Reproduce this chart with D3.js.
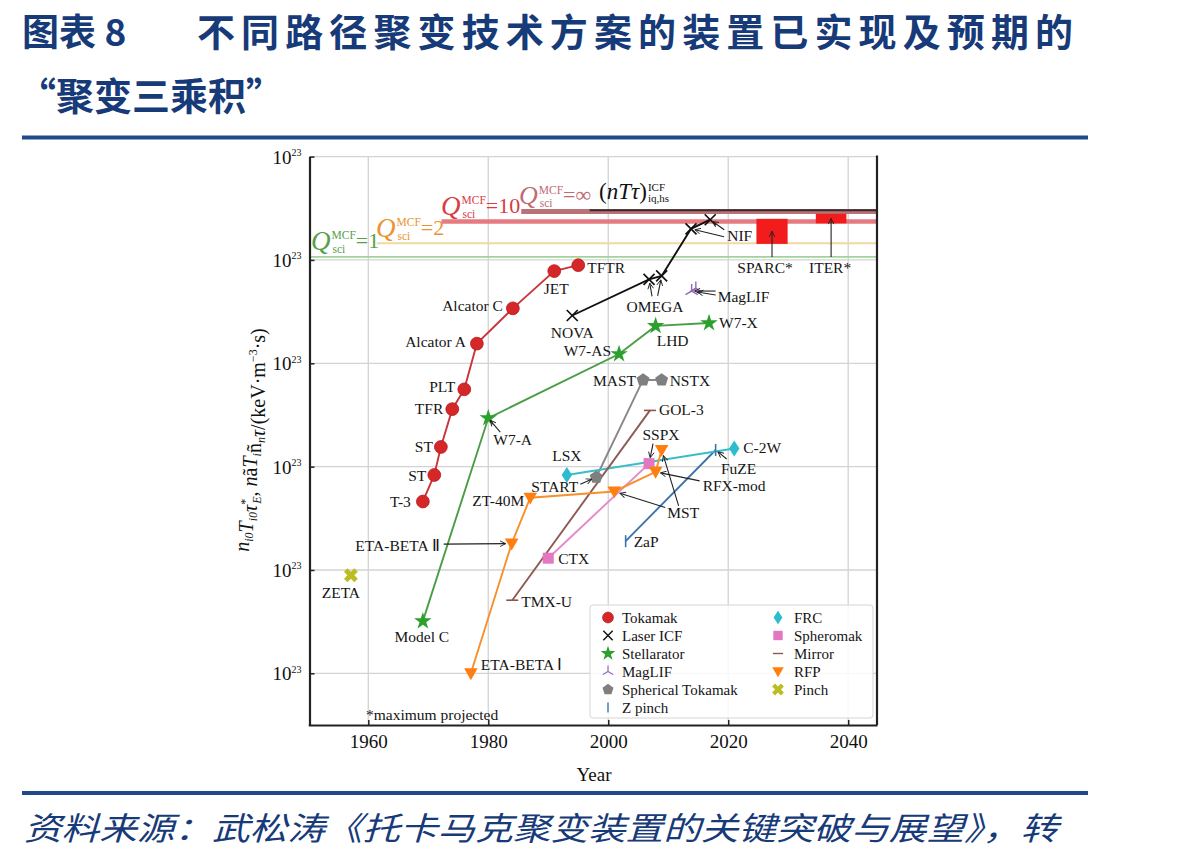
<!DOCTYPE html>
<html><head><meta charset="utf-8">
<script src="https://cdn.jsdelivr.net/npm/d3@7"></script>
<style>body{margin:0;background:#fff}svg{display:block}</style>
</head><body>
<svg id="c" width="1198" height="861"></svg>
<script>
// ---------------- DATA ----------------
const yearTicks = [1960, 1980, 2000, 2020, 2040];
const decadeTicks = [1e17, 1e18, 1e19, 1e20, 1e21, 1e22];
const tickLabelBase = "10";
const tickLabelExp = ["23", "23", "23", "23", "23", "23"]; // as printed in the figure

const tokamak = [
  {name:"T-3", year:1969.1, value:4.6e18},
  {name:"ST", year:1971.0, value:8.3e18},
  {name:"ST", year:1972.1, value:1.55e19},
  {name:"TFR", year:1974.0, value:3.6e19},
  {name:"PLT", year:1976.0, value:5.6e19},
  {name:"Alcator A", year:1978.1, value:1.55e20},
  {name:"Alcator C", year:1984.1, value:3.4e20},
  {name:"JET", year:1991.0, value:7.8e20},
  {name:"TFTR", year:1995.0, value:8.9e20}
];
const laserICF = [
  {name:"NOVA", year:1994.0, value:2.9e20},
  {name:"OMEGA", year:2006.8, value:6.5e20},
  {name:"OMEGA", year:2008.9, value:7.0e20},
  {name:"NIF", year:2013.8, value:2.0e21},
  {name:"NIF", year:2017.0, value:2.45e21}
];
const stellarator = [
  {name:"Model C", year:1969.1, value:3.2e17},
  {name:"W7-A", year:1980.0, value:2.95e19},
  {name:"W7-AS", year:2001.8, value:1.23e20},
  {name:"LHD", year:2007.9, value:2.3e20},
  {name:"W7-X", year:2016.8, value:2.45e20}
];
const maglif = [
  {name:"MagLIF", year:2013.9, value:5.0e20},
  {name:"MagLIF", year:2014.6, value:5.3e20}
];
const sphericalTokamak = [
  {name:"START", year:1998.0, value:7.9e18},
  {name:"MAST", year:2005.8, value:6.9e19},
  {name:"NSTX", year:2008.9, value:6.9e19}
];
const zPinch = [
  {name:"ZaP", year:2002.9, value:1.9e18},
  {name:"FuZE", year:2017.9, value:1.45e19}
];
const frc = [
  {name:"LSX", year:1993.1, value:8.3e18},
  {name:"C-2W", year:2021.0, value:1.5e19}
];
const spheromak = [
  {name:"CTX", year:1990.0, value:1.3e18},
  {name:"SSPX", year:2006.8, value:1.07e19}
];
const mirror = [
  {name:"TMX-U", year:1984.0, value:5.1e17},
  {name:"GOL-3", year:2006.95, value:3.5e19}
];
const rfp = [
  {name:"ETA-BETA Ⅰ", year:1977.1, value:1.0e17},
  {name:"ETA-BETA Ⅱ", year:1983.9, value:1.8e18},
  {name:"ZT-40M", year:1987.0, value:5.0e18},
  {name:"MST", year:2001.0, value:5.75e18},
  {name:"RFX-mod", year:2007.9, value:8.9e18},
  {name:"MST", year:2008.9, value:1.45e19}
];
const pinch = [
  {name:"ZETA", year:1957.1, value:8.9e17}
];
// Q_sci lines: start year, level
const qLines = [
  {key:"Q1",   startYear:1950.2, value:1.07e21},
  {key:"Q2",   startYear:1961.4, value:1.45e21},
  {key:"Q10",  startYear:1972.2, value:2.35e21},
  {key:"Qinf", startYear:1985.5, value:2.95e21},
  {key:"ICF",  startYear:1996.9, value:3.02e21}
];
// projected machines (year span, value span)
const projected = [
  {name:"SPARC*", years:[2024.7, 2029.9], values:[1.43e21, 2.5e21]},
  {name:"ITER*",  years:[2034.6, 2039.7], values:[2.26e21, 2.8e21]}
];
const legendNames = ["Tokamak","Laser ICF","Stellarator","MagLIF","Spherical Tokamak","Z pinch","FRC","Spheromak","Mirror","RFP","Pinch"];

// ---------------- STYLE / LAYOUT ----------------
const serif = "'Liberation Serif','Times New Roman',serif";
const cjk = "'Noto Sans CJK SC','Noto Sans CJK JP',sans-serif";
const navy = "#173a78";

const series = [
  {label:"Tokamak", data:tokamak, marker:"circle", color:"#d62728", line:"#c8353a"},
  {label:"Laser ICF", data:laserICF, marker:"x", color:"#111", line:"#111"},
  {label:"Stellarator", data:stellarator, marker:"star", color:"#2ca02c", line:"#4a9d45"},
  {label:"MagLIF", data:maglif, marker:"tri", color:"#9467bd", line:"#9467bd"},
  {label:"Spherical Tokamak", data:sphericalTokamak, marker:"pent", color:"#7f7f7f", line:"#888"},
  {label:"Z pinch", data:zPinch, marker:"vline", color:"#3a73ad", line:"#3f74ab"},
  {label:"FRC", data:frc, marker:"diam", color:"#2bbccd", line:"#3bbccb"},
  {label:"Spheromak", data:spheromak, marker:"square", color:"#e377c2", line:"#e58ac9"},
  {label:"Mirror", data:mirror, marker:"hline", color:"#8c564b", line:"#8c5a52"},
  {label:"RFP", data:rfp, marker:"tridown", color:"#ff7f0e", line:"#f7902c"},
  {label:"Pinch", data:pinch, marker:"X", color:"#bcbd22", line:"#bcbd22"}
];

const svg = d3.select("#c");
svg.append("rect").attr("width",1198).attr("height",861).attr("fill","#fff");

const L = 309.5, R = 877, T = 156.6, B = 725;
const x = d3.scaleLinear().domain([1950, 2044.8]).range([308.3, 877]);
const y = d3.scaleLog().domain([Math.pow(10,16.5), 1e22]).range([B, T]);

// ---- header ----
svg.append("text").attr("x",22).attr("y",46).attr("font-family",cjk).attr("font-weight",700)
  .attr("font-size",37).attr("fill",navy).text("图表 8");
svg.append("text").attr("x",197).attr("y",46).attr("font-family",cjk).attr("font-weight",700)
  .attr("font-size",38).attr("textLength",876).attr("lengthAdjust","spacing").attr("fill",navy)
  .text("不同路径聚变技术方案的装置已实现及预期的");
svg.append("text").attr("x",18).attr("y",110).attr("font-family",cjk).attr("font-weight",700)
  .attr("font-size",38).attr("fill",navy).text("“聚变三乘积”");
svg.append("rect").attr("x",22).attr("y",135.5).attr("width",1066).attr("height",4).attr("fill","#1f4b8c");
svg.append("rect").attr("x",22).attr("y",791).attr("width",1066).attr("height",4).attr("fill","#1f4b8c");
svg.append("text").attr("x",24).attr("y",840).attr("font-family",cjk).attr("font-style","italic")
  .attr("font-size",32).attr("fill",navy).attr("textLength",1034).attr("lengthAdjust","spacingAndGlyphs")
  .text("资料来源：武松涛《托卡马克聚变装置的关键突破与展望》，转");

// ---- grid ----
const grid = svg.append("g");
grid.selectAll("line.v").data(yearTicks).join("line")
  .attr("x1",d=>x(d)).attr("x2",d=>x(d)).attr("y1",T).attr("y2",B)
  .attr("stroke","#d3d3d3").attr("stroke-width",1.3);
grid.selectAll("line.h").data(decadeTicks).join("line")
  .attr("x1",L).attr("x2",R).attr("y1",d=>y(d)).attr("y2",d=>y(d))
  .attr("stroke","#d3d3d3").attr("stroke-width",1.3);

// ---- Q lines ----
const qStyle = {
  Q1:{color:"#9fd49a", w:1.6},
  Q2:{color:"#f2d9a2", w:2.2},
  Q10:{color:"#e57b80", w:4.5},
  Qinf:{color:"#b87378", w:5},
  ICF:{color:"#3a2a2a", w:2}
};
const ql = svg.append("g");
qLines.forEach(q=>{
  ql.append("line").attr("x1",x(q.startYear)).attr("x2",R).attr("y1",y(q.value)).attr("y2",y(q.value))
    .attr("stroke",qStyle[q.key].color).attr("stroke-width",qStyle[q.key].w);
});

function qLabel(x0, yb, rest, color, size, restSize){
  const g = svg.append("g").attr("fill",color).attr("font-family",serif);
  const t = g.append("text").attr("x",x0).attr("y",yb).attr("font-size",size).attr("font-style","italic").text("Q");
  const w = t.node().getComputedTextLength();
  const s1 = g.append("text").attr("x",x0+w+1).attr("y",yb-size*0.4).attr("font-size",11.5).text("MCF");
  const s2 = g.append("text").attr("x",x0+w+2).attr("y",yb+3).attr("font-size",11.5).text("sci");
  const w2 = Math.max(s1.node().getComputedTextLength(), s2.node().getComputedTextLength());
  g.append("text").attr("x",x0+w+1+w2).attr("y",yb-2).attr("font-size",restSize).text(rest);
}
qLabel(311, 250, "=1", "#55a04b", 27, 22);
qLabel(376, 237, "=2", "#eb9330", 27, 22);
qLabel(441, 215, "=10", "#d83c3f", 27, 22);
qLabel(519, 204, "=∞", "#c06a72", 26, 22);
{
  const g = svg.append("g").attr("font-family",serif).attr("fill","#111");
  const t = g.append("text").attr("x",599).attr("y",199).attr("font-size",23).attr("font-style","italic");
  t.append("tspan").attr("font-style","normal").text("(");
  t.append("tspan").text("nTτ");
  t.append("tspan").attr("font-style","normal").text(")");
  const w = t.node().getComputedTextLength();
  g.append("text").attr("x",599+w+1).attr("y",191).attr("font-size",11).text("ICF");
  g.append("text").attr("x",599+w+1).attr("y",202).attr("font-size",11).text("iq,hs");
}

// ---- projected boxes ----
projected.forEach(p=>{
  svg.append("rect").attr("x",x(p.years[0])).attr("width",x(p.years[1])-x(p.years[0]))
    .attr("y",y(p.values[1])).attr("height",y(p.values[0])-y(p.values[1])).attr("fill","#f21c1c");
});

// ---- axes ----
const xAxis = d3.axisBottom(x).tickValues(yearTicks).tickSize(-5).tickSizeOuter(0).tickPadding(10).tickFormat(d3.format("d"));
const gx = svg.append("g").attr("transform",`translate(0,${B})`).call(xAxis);
gx.select(".domain").attr("stroke","#222").attr("stroke-width",2.2);
gx.selectAll(".tick line").attr("stroke","#222").attr("stroke-width",1.5);
gx.selectAll("text").attr("font-family",serif).attr("font-size",19).attr("fill","#111");

const yAxis = d3.axisLeft(y).tickValues(decadeTicks).tickSize(-5).tickSizeOuter(0).tickPadding(8).tickFormat(()=>"");
const gy = svg.append("g").attr("transform",`translate(${L},0)`).call(yAxis);
gy.select(".domain").attr("stroke","#222").attr("stroke-width",2.2);
gy.selectAll(".tick line").attr("stroke","#222").attr("stroke-width",1.5);
gy.selectAll(".tick text").each(function(d,i){
  const t = d3.select(this).attr("font-family",serif).attr("font-size",19).attr("fill","#111").attr("dy","0.34em");
  t.append("tspan").text(tickLabelBase);
  t.append("tspan").attr("font-size",10).attr("dy","-0.75em").text(tickLabelExp[i]);
});
svg.append("line").attr("x1",R).attr("x2",R).attr("y1",T-1).attr("y2",B).attr("stroke","#222").attr("stroke-width",2.2);

svg.append("text").attr("x",594).attr("y",781).attr("text-anchor","middle").attr("font-family",serif)
  .attr("font-size",19).attr("fill","#111").text("Year");

// y label
{
  const t = svg.append("text").attr("transform","translate(249,440) rotate(-90)").attr("text-anchor","middle")
    .attr("font-family",serif).attr("font-size",20).attr("fill","#111");
  const it = (s)=>t.append("tspan").attr("font-style","italic").text(s);
  const sub = (s)=>{t.append("tspan").attr("font-size",12).attr("dy",4).attr("font-style","italic").text(s); t.append("tspan").attr("dy",-4).text("");};
  it("n"); sub("i0"); it("T"); sub("i0"); it("τ");
  t.append("tspan").attr("font-size",12).attr("dy",-8).text("*");
  t.append("tspan").attr("font-size",12).attr("dy",12).attr("dx",-5).attr("font-style","italic").text("E");
  t.append("tspan").attr("dy",-4).text(", ");
  it("n"); t.append("tspan").text("ã"); it("T"); sub("i"); t.append("tspan").text("ñ"); sub("n"); it("τ");
  t.append("tspan").text("/(keV·m");
  t.append("tspan").attr("font-size",12).attr("dy",-8).text("−3");
  t.append("tspan").attr("dy",8).text("·s)");
}

// ---- markers ----
function pentPath(r){
  let p=""; for(let k=0;k<5;k++){const a=-Math.PI/2+k*2*Math.PI/5; p+=(k?"L":"M")+(r*Math.cos(a)).toFixed(2)+","+(r*Math.sin(a)).toFixed(2);} return p+"Z";
}
function drawMarker(g, type, cx, cy, color, scale=1){
  const m = g.append("g").attr("transform",`translate(${cx},${cy}) scale(${scale})`);
  switch(type){
    case "circle": m.append("circle").attr("r",6.4).attr("fill",color).attr("stroke","#b51c1f").attr("stroke-width",0.8); break;
    case "x": m.append("path").attr("d","M-5.5,-5.5L5.5,5.5M-5.5,5.5L5.5,-5.5").attr("stroke",color).attr("stroke-width",1.7).attr("fill","none"); break;
    case "star": m.append("path").attr("d",d3.symbol(d3.symbolStar,95)()).attr("fill",color); break;
    case "tri": m.append("path").attr("d","M0,0L0,-7M0,0L-6.1,3.5M0,0L6.1,3.5").attr("stroke",color).attr("stroke-width",1.4).attr("fill","none"); break;
    case "pent": m.append("path").attr("d",pentPath(6.8)).attr("fill",color); break;
    case "vline": m.append("path").attr("d","M0,-6L0,6").attr("stroke",color).attr("stroke-width",1.6); break;
    case "diam": m.append("path").attr("d","M0,-8L5.2,0L0,8L-5.2,0Z").attr("fill",color); break;
    case "square": m.append("rect").attr("x",-5.5).attr("y",-5.5).attr("width",11).attr("height",11).attr("fill",color); break;
    case "hline": m.append("path").attr("d","M-6,0L6,0").attr("stroke",color).attr("stroke-width",1.6); break;
    case "tridown": m.append("path").attr("d","M-6.8,-5L6.8,-5L0,6.8Z").attr("fill",color); break;
    case "X": m.append("path").attr("d",d3.symbol(d3.symbolCross,120)()).attr("transform","rotate(45)").attr("fill",color); break;
  }
}

const marks = svg.append("g");
const line = d3.line().x(d=>x(d.year)).y(d=>y(d.value));
series.forEach(s=>{
  if (s.data.length>1) marks.append("path").attr("d",line(s.data)).attr("fill","none")
    .attr("stroke",s.line).attr("stroke-width",1.9);
});
series.forEach(s=>{
  s.data.forEach(d=>drawMarker(marks, s.marker, x(d.year), y(d.value), s.color));
});

// ---- labels ----
// [series data, index, dx, dy, anchor]
const labelLayout = [
  [tokamak,0,-12,6,"end"],[tokamak,1,-8,6,"end"],[tokamak,2,-8,5,"end"],[tokamak,3,-9,5,"end"],
  [tokamak,4,-9,3,"end"],[tokamak,5,-11,3,"end"],[tokamak,6,-10,3,"end"],[tokamak,7,2,23,"middle"],[tokamak,8,9,8,"start"],
  [laserICF,0,0,22,"middle"],
  [stellarator,0,-1,21,"middle"],[stellarator,2,-8,2,"end"],[stellarator,3,17,20,"middle"],[stellarator,4,10,5,"start"],
  [sphericalTokamak,1,-7,6,"end"],[sphericalTokamak,2,8,6,"start"],
  [mirror,0,9,7,"start"],[mirror,1,9,5,"start"],
  [spheromak,0,10,6,"start"],
  [frc,0,0,-14,"middle"],[frc,1,9,5,"start"],
  [zPinch,0,8,6,"start"],
  [rfp,0,10,-3,"start"],[rfp,2,-6,8,"end"],
  [pinch,0,-10,23,"middle"]
];
const lab = svg.append("g").attr("font-family",serif).attr("font-size",15.5).attr("fill","#151515");
labelLayout.forEach(([arr,i,dx,dy,anc])=>{
  const d=arr[i];
  lab.append("text").attr("x",x(d.year)+dx).attr("y",y(d.value)+dy).attr("text-anchor",anc).text(d.name);
});

// ---- arrow annotations ----
svg.append("defs").append("marker").attr("id","ah").attr("viewBox","0 0 10 10").attr("refX",9).attr("refY",5)
  .attr("markerWidth",7).attr("markerHeight",7).attr("orient","auto-start-reverse").attr("markerUnits","userSpaceOnUse")
  .append("path").attr("d","M1,1L9,5L1,9").attr("fill","none").attr("stroke","#222").attr("stroke-width",1.3);
const ann = svg.append("g");
function arrow(x1,y1,x2,y2,gap){
  const dx=x2-x1, dy=y2-y1, L2=Math.hypot(dx,dy);
  ann.append("line").attr("x1",x1).attr("y1",y1).attr("x2",x2-dx/L2*gap).attr("y2",y2-dy/L2*gap)
    .attr("stroke","#222").attr("stroke-width",1.1).attr("marker-end","url(#ah)");
}
const arrowNotes = [
  {text:"W7-A", ref:[stellarator,1], label:[5,27,"start"], arrows:[[stellarator,1,12,14,3]]},
  {text:"ETA-BETA Ⅱ", ref:[rfp,1], label:[-72,7,"end"], arrows:[[rfp,1,-68,0.5,6]]},
  {text:"START", ref:[sphericalTokamak,0], label:[-18,15,"end"], arrows:[[sphericalTokamak,0,-16,7,5]]},
  {text:"SSPX", ref:[spheromak,1], label:[12,-24,"middle"], arrows:[[spheromak,1,4,-20,6]]},
  {text:"FuZE", ref:[zPinch,1], label:[23,24,"middle"], arrows:[[zPinch,1,11,9,3]]},
  {text:"MST", ref:[rfp,3], label:[53,27,"start"], arrows:[[rfp,3,51,16,6],[rfp,5,17,56,6]]},
  {text:"RFX-mod", ref:[rfp,4], label:[47,19,"start"], arrows:[[rfp,4,44,9,5]]},
  {text:"NIF", ref:[laserICF,4], label:[17,21,"start"], arrows:[[laserICF,3,33,8,4],[laserICF,4,14,10,3]]},
  {text:"OMEGA", ref:[laserICF,1], label:[6,33,"middle"], arrows:[[laserICF,1,3,17,4],[laserICF,2,-4,20,4]]},
  {text:"MagLIF", ref:[maglif,0], label:[26,11,"start"], arrows:[[maglif,0,24,0,3],[maglif,0,24,4,6]]}
];
arrowNotes.forEach(n=>{
  const rd = n.ref[0][n.ref[1]];
  lab.append("text").attr("x",x(rd.year)+n.label[0]).attr("y",y(rd.value)+n.label[1]).attr("text-anchor",n.label[2]).text(n.text);
  n.arrows.forEach(([arr,i,ox,oy,gap])=>{
    const d=arr[i], px=x(d.year), py=y(d.value);
    arrow(px+ox,py+oy,px,py,gap);
  });
});
projected.forEach(p=>{
  const cx = x((p.years[0]+p.years[1])/2);
  const cy = (y(p.values[0])+y(p.values[1]))/2;
  arrow(cx, 257, cx, cy, 0);
  lab.append("text").attr("x",cx+(p.name==="SPARC*"?-7:-1)).attr("y",273).attr("text-anchor","middle").text(p.name);
});

lab.append("text").attr("x",366).attr("y",720).attr("font-size",15.5).text("*maximum projected");

// ---- legend ----
const lg = svg.append("g");
lg.append("rect").attr("x",590).attr("y",605).attr("width",283).attr("height",113).attr("rx",3)
  .attr("fill","#fff").attr("fill-opacity",0.85).attr("stroke","#d5d5d5").attr("stroke-width",1);
legendNames.forEach((nm,i)=>{
  const s = series.find(q=>q.label===nm);
  const col = i<6?0:1, row = i<6?i:i-6;
  const mx = col? 778 : 608, ty = 617.5 + row*18;
  drawMarker(lg, s.marker, mx, ty, s.color, 0.85);
  lg.append("text").attr("x",col?794:622).attr("y",ty+5).attr("font-family",serif).attr("font-size",15).attr("fill","#151515").text(nm);
});
</script>
</body></html>
